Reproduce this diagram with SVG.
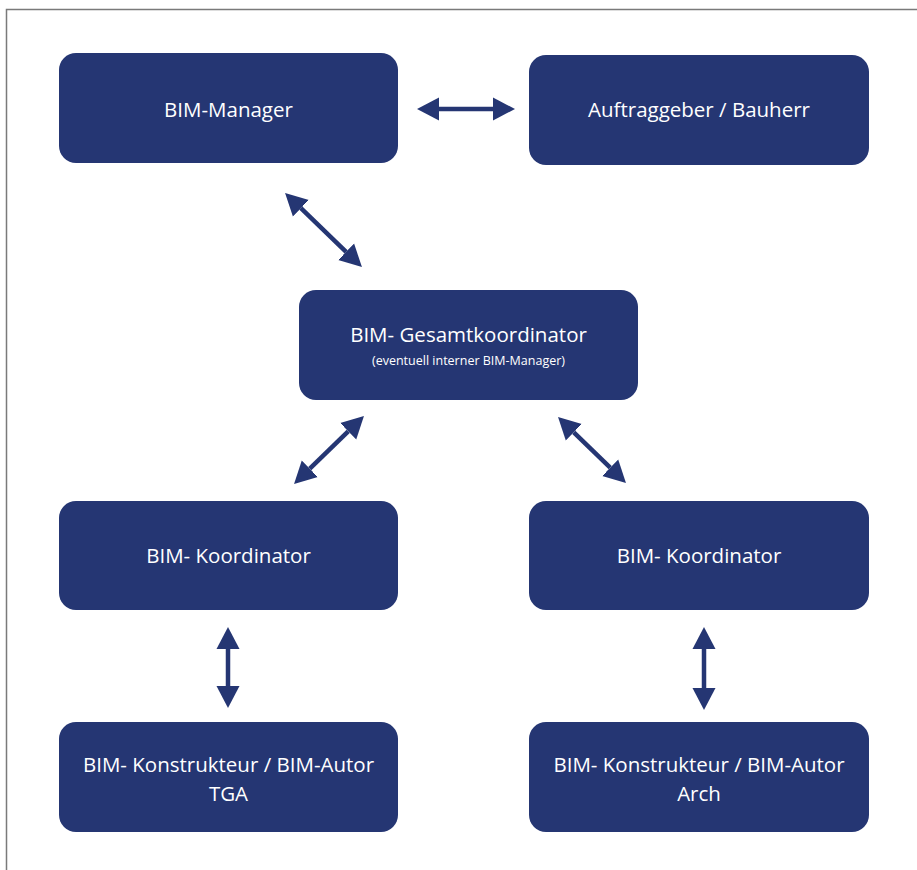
<svg xmlns="http://www.w3.org/2000/svg" width="917" height="870" viewBox="0 0 917 870">
<style>
.box{fill:#253673;}
.t{fill:#ffffff;font-family:"Open Sans","Liberation Sans",sans-serif;font-size:20.5px;text-anchor:middle;}
.s{fill:#ffffff;font-family:"Open Sans","Liberation Sans",sans-serif;font-size:12.5px;text-anchor:middle;}
.a{stroke:#253673;stroke-width:4.5;fill:none;marker-start:url(#h);marker-end:url(#h);}
</style>
<defs>
<marker id="h" markerUnits="userSpaceOnUse" markerWidth="24" markerHeight="26" refX="0" refY="12" orient="auto-start-reverse" viewBox="0 0 24 24">
<path d="M0,0.5 L22,12 L0,23.5 z" fill="#253673"/>
</marker>
</defs>
<rect width="917" height="870" fill="#ffffff"/>
<path d="M917,9.5 H6.5 V870" fill="none" stroke="#7a7a7a" stroke-width="1.5"/>
<g id="bim-manager"><rect class="box" x="59" y="53" width="339" height="110" rx="17"/><text class="t" x="228.5" y="117">BIM-Manager</text></g>
<g id="auftraggeber"><rect class="box" x="529" y="55" width="340" height="110" rx="17"/><text class="t" x="699" y="117">Auftraggeber / Bauherr</text></g>
<g id="gesamtkoordinator"><rect class="box" x="299" y="290" width="339" height="110" rx="17"/><text class="t" x="468.5" y="342">BIM- Gesamtkoordinator</text><text class="s" x="468.5" y="365">(eventuell interner BIM-Manager)</text></g>
<g id="koordinator-links"><rect class="box" x="59" y="501" width="339" height="109" rx="17"/><text class="t" x="228.5" y="563">BIM- Koordinator</text></g>
<g id="koordinator-rechts"><rect class="box" x="529" y="501" width="340" height="109" rx="17"/><text class="t" x="699" y="563">BIM- Koordinator</text></g>
<g id="konstrukteur-tga"><rect class="box" x="59" y="722" width="339" height="110" rx="17"/><text class="t" x="228.5" y="772">BIM- Konstrukteur / BIM-Autor</text><text class="t" x="228.5" y="801">TGA</text></g>
<g id="konstrukteur-arch"><rect class="box" x="529" y="722" width="340" height="110" rx="17"/><text class="t" x="699" y="772">BIM- Konstrukteur / BIM-Autor</text><text class="t" x="699" y="801">Arch</text></g>
<g id="connectors">
<line class="a" x1="439" y1="109" x2="493" y2="109"/>
<line class="a" x1="300.9" y1="208.2" x2="346.1" y2="251.8"/>
<line class="a" x1="348.2" y1="431.3" x2="309.8" y2="468.7"/>
<line class="a" x1="573.8" y1="432.3" x2="610.2" y2="467.7"/>
<line class="a" x1="228" y1="649" x2="228" y2="686"/>
<line class="a" x1="704" y1="649" x2="704" y2="688"/>
</g>
</svg>
